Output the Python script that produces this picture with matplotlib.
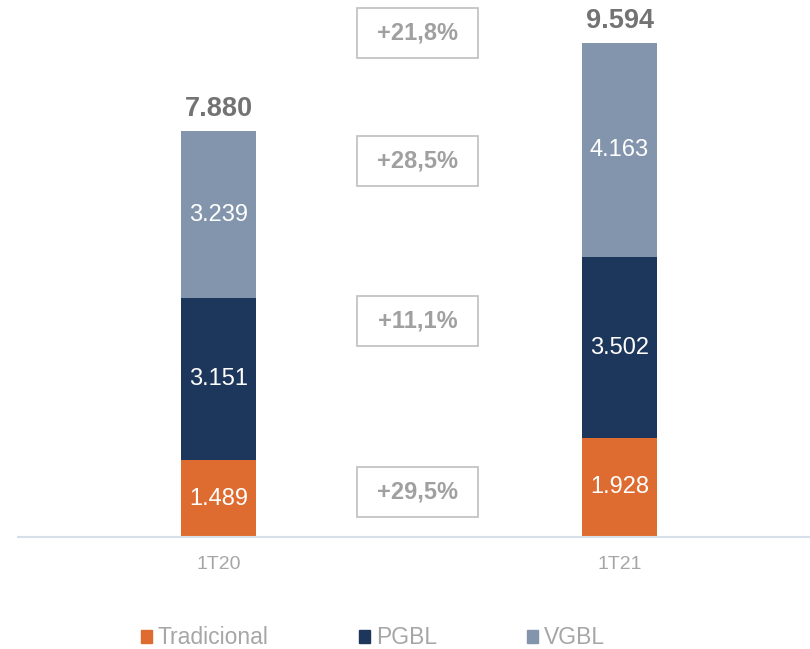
import matplotlib.pyplot as plt
from matplotlib.patches import Patch, Rectangle

plt.rcParams['font.family'] = ['Liberation Sans', 'DejaVu Sans']

periodos = ['1T20', '1T21']
tradicional = [1489, 1928]
pgbl = [3151, 3502]
vgbl = [3239, 4163]
totais = ['7.880', '9.594']
variacoes = ['+21,8%', '+28,5%', '+11,1%', '+29,5%']
var_y = [9790, 7300, 4195, 875]

cores = ['#DE6B2F', '#1D375C', '#8395AC']
nomes = ['Tradicional', 'PGBL', 'VGBL']


def fmt(v):
    return f'{v:,}'.replace(',', '.')


fig = plt.figure(figsize=(8.1, 6.49), dpi=100)
ax = fig.add_axes([18 / 810, 112 / 649, 792 / 810, 537 / 649])

x = range(len(periodos))
w = 0.187
base = [0, 0]
for serie, cor in zip([tradicional, pgbl, vgbl], cores):
    bars = ax.bar(x, serie, w, bottom=base, color=cor)
    for i, b in enumerate(bars):
        ax.text(b.get_x() + w / 2, base[i] + serie[i] / 2, fmt(serie[i]),
                ha='center', va='center', color='white', fontsize=17)
    base = [a + b for a, b in zip(base, serie)]

for i, t in enumerate(totais):
    ax.text(i, base[i] + 180, t, ha='center', va='bottom',
            color='#737373', fontsize=19.5, fontweight='bold')

bx = 0.496
bw = 0.30
bh = 960
for txt, yy in zip(variacoes, var_y):
    ax.add_patch(Rectangle((bx - bw / 2, yy - bh / 2), bw, bh, fill=False,
                           edgecolor='#BFBFBF', linewidth=1.2))
    ax.text(bx, yy, txt, ha='center', va='center', color='#A0A0A0',
            fontsize=17, fontweight='bold')

ax.set_xlim(-0.5, 1.475)
ax.set_ylim(0, 10428)
ax.set_xticks(list(x))
ax.set_xticklabels(periodos, color='#A6A6A6', fontsize=14)
ax.tick_params(axis='x', length=0, pad=14)
ax.set_yticks([])
for s in ['top', 'right', 'left']:
    ax.spines[s].set_visible(False)
ax.spines['bottom'].set_color('#D6DFEA')
ax.spines['bottom'].set_linewidth(1.5)

handles = [Patch(color=c) for c in cores]
leg = fig.legend(handles, nomes, loc='center', bbox_to_anchor=(373 / 810, 11 / 649),
                 ncol=3, frameon=False, fontsize=16.5, handlelength=0.48,
                 handleheight=0.48, handletextpad=0.25, columnspacing=3.95)
for t in leg.get_texts():
    t.set_color('#A6A6A6')

fig.savefig('out.png', dpi=100)
